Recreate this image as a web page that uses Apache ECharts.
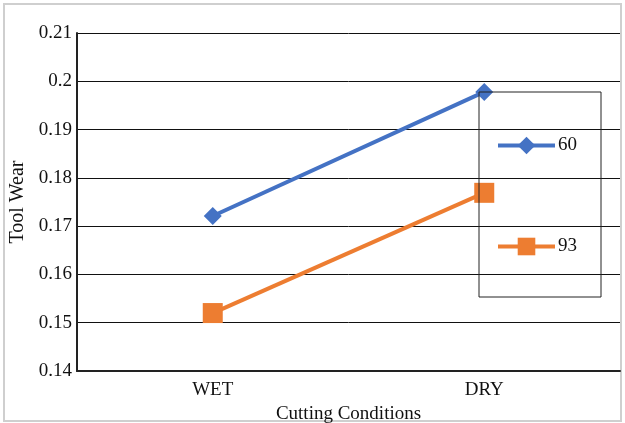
<!DOCTYPE html>
<html><head><meta charset="utf-8">
<script src="https://cdn.jsdelivr.net/npm/echarts@6/dist/echarts.min.js"></script>
<style>html,body{margin:0;padding:0;background:#fff}#c{width:625px;height:423px}</style>
</head><body><div id="c"></div>
<script>
var categories = ['WET', 'DRY'];
var series60 = [0.1721, 0.1978];
var series93 = [0.1520, 0.1769];
var seriesNames = ['60', '93'];
var yTicks = {min: 0.14, max: 0.21, interval: 0.01};

var font = 'Liberation Serif';
var chart = echarts.init(document.getElementById('c'), null, {renderer: 'canvas'});
chart.setOption({
  animation: false,
  backgroundColor: '#fff',
  grid: {left: 77, right: 5, top: 33, bottom: 52, containLabel: false, outerBoundsMode: 'none'},
  graphic: [{
    type: 'rect', shape: {x: 4, y: 4, width: 617, height: 417},
    style: {fill: 'none', stroke: '#cfcfcf', lineWidth: 2}, silent: true, z: -1
  }],
  xAxis: {
    type: 'category', data: categories, boundaryGap: true,
    axisLine: {lineStyle: {color: '#222', width: 2}},
    axisTick: {show: false},
    axisLabel: {color: '#111', fontFamily: font, fontSize: 19, margin: 10},
    name: 'Cutting Conditions', nameLocation: 'middle', nameGap: 32,
    nameTextStyle: {color: '#111', fontFamily: font, fontSize: 19}
  },
  yAxis: {
    type: 'value', min: yTicks.min, max: yTicks.max, interval: yTicks.interval,
    axisLine: {show: true, lineStyle: {color: '#222', width: 2}},
    axisTick: {show: false},
    axisLabel: {color: '#111', fontFamily: font, fontSize: 19, margin: 5},
    splitLine: {lineStyle: {color: '#111', width: 1}},
    name: 'Tool Wear', nameLocation: 'middle', nameGap: 47,
    nameTextStyle: {color: '#111', fontFamily: font, fontSize: 20}
  },
  legend: {
    orient: 'vertical', left: 479, top: 92,
    padding: [44, 24, 41, 17], itemGap: 82,
    itemWidth: 57, itemHeight: 22,
    borderColor: '#222', borderWidth: 1,
    lineStyle: {width: 4},
    textStyle: {color: '#111', fontFamily: font, fontSize: 19, padding: [0,0,0,-2]},
    data: seriesNames
  },
  series: [{
    name: seriesNames[0], type: 'line', data: series60,
    symbol: 'diamond', symbolSize: 18,
    lineStyle: {color: '#4472C4', width: 4},
    itemStyle: {color: '#4472C4'}
  }, {
    name: seriesNames[1], type: 'line', data: series93,
    symbol: 'rect', symbolSize: 20,
    lineStyle: {color: '#ED7D31', width: 4},
    itemStyle: {color: '#ED7D31'}
  }]
});
</script></body></html>
